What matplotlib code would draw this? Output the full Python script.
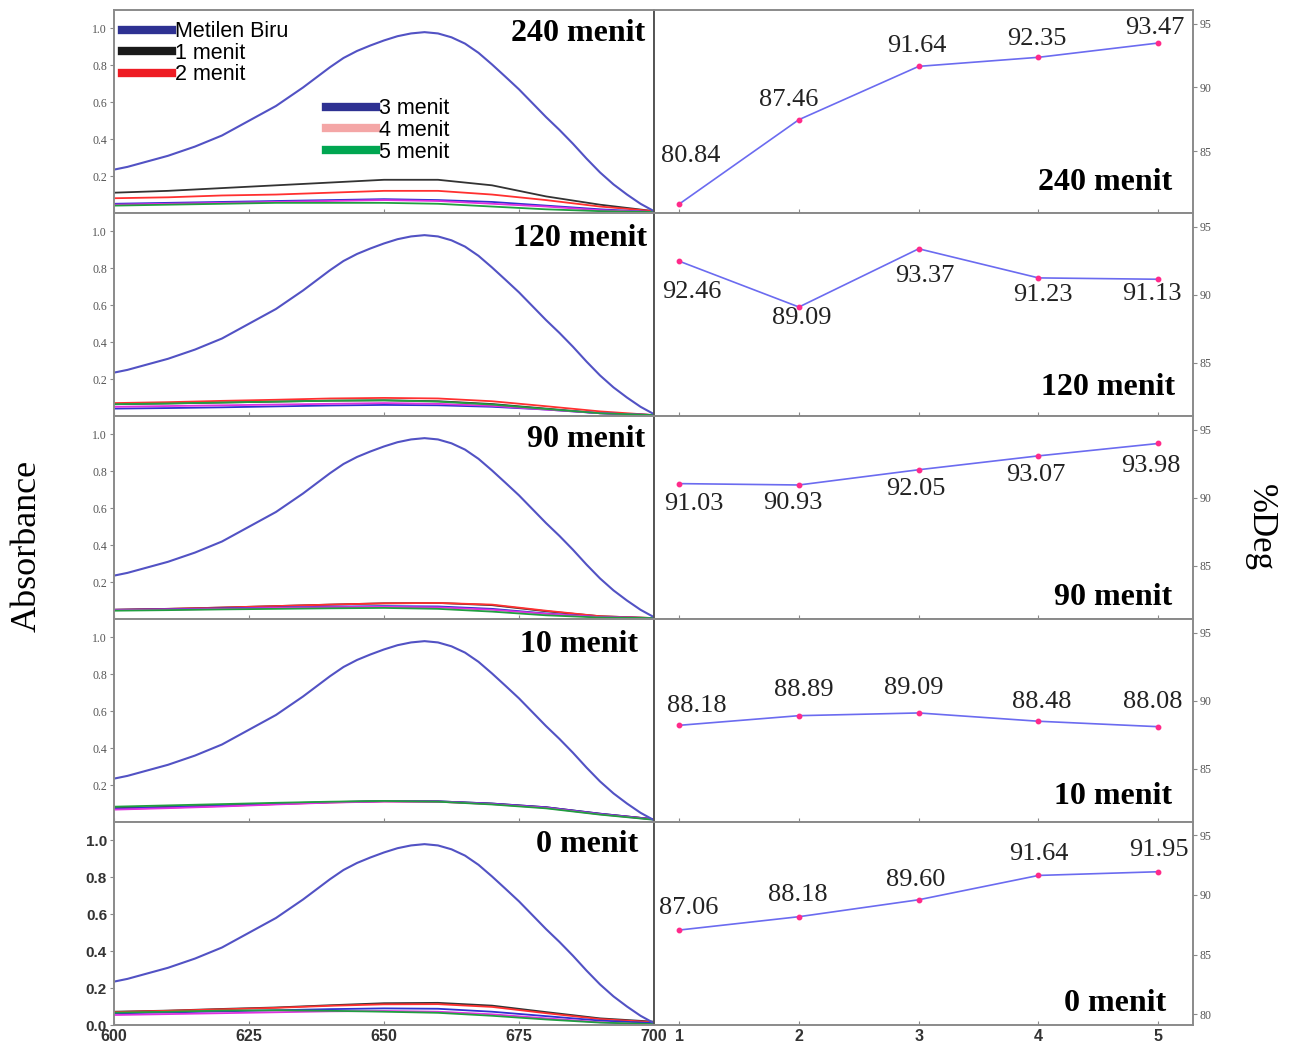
import matplotlib
matplotlib.use("Agg")
import matplotlib.pyplot as plt
from matplotlib.lines import Line2D
import numpy as np

# --- data ---------------------------------------------------------------
panels = ['240 menit', '120 menit', '90 menit', '10 menit', '0 menit']

wl = np.arange(600, 700.1, 2.5)
metilen_biru = [0.235, 0.25, 0.27, 0.29, 0.31, 0.335, 0.36, 0.39, 0.42, 0.46,
                0.50, 0.54, 0.58, 0.63, 0.68, 0.735, 0.79, 0.84, 0.878, 0.908,
                0.935, 0.958, 0.973, 0.98, 0.973, 0.952, 0.918, 0.868, 0.805, 0.738,
                0.67, 0.595, 0.52, 0.45, 0.375, 0.295, 0.22, 0.155, 0.10, 0.05, 0.01]

wl_s = [600, 610, 620, 630, 640, 650, 660, 670, 680, 690, 700]
# 1..5 menit spectra for each panel
abs_240 = [
    [0.11, 0.12, 0.135, 0.15, 0.165, 0.18, 0.18, 0.15, 0.09, 0.045, 0.01],
    [0.08, 0.085, 0.095, 0.10, 0.11, 0.12, 0.12, 0.10, 0.07, 0.035, 0.01],
    [0.05, 0.055, 0.06, 0.065, 0.07, 0.075, 0.07, 0.06, 0.04, 0.02, 0.005],
    [0.045, 0.05, 0.055, 0.06, 0.065, 0.07, 0.065, 0.05, 0.035, 0.015, 0.005],
    [0.04, 0.045, 0.05, 0.055, 0.055, 0.055, 0.05, 0.035, 0.02, 0.01, 0.005],
]
abs_120 = [
    [0.064, 0.068, 0.073, 0.078, 0.083, 0.085, 0.08, 0.065, 0.04, 0.015, 0.005],
    [0.07, 0.075, 0.082, 0.088, 0.095, 0.098, 0.095, 0.08, 0.053, 0.025, 0.005],
    [0.04, 0.043, 0.047, 0.052, 0.057, 0.06, 0.058, 0.05, 0.035, 0.015, 0.005],
    [0.05, 0.054, 0.058, 0.062, 0.066, 0.07, 0.066, 0.055, 0.035, 0.015, 0.005],
    [0.064, 0.068, 0.073, 0.078, 0.083, 0.085, 0.078, 0.062, 0.038, 0.015, 0.005],
]
abs_90 = [
    [0.05, 0.055, 0.062, 0.07, 0.078, 0.085, 0.087, 0.075, 0.042, 0.015, 0.005],
    [0.05, 0.055, 0.062, 0.07, 0.078, 0.085, 0.087, 0.078, 0.045, 0.015, 0.005],
    [0.05, 0.053, 0.058, 0.062, 0.067, 0.07, 0.068, 0.055, 0.03, 0.01, 0.005],
    [0.048, 0.051, 0.055, 0.06, 0.064, 0.066, 0.063, 0.05, 0.028, 0.01, 0.005],
    [0.045, 0.048, 0.052, 0.055, 0.058, 0.06, 0.055, 0.04, 0.02, 0.008, 0.005],
]
abs_10 = [
    [0.075, 0.082, 0.09, 0.1, 0.108, 0.113, 0.112, 0.1, 0.08, 0.045, 0.015],
    [0.07, 0.078, 0.087, 0.097, 0.106, 0.112, 0.11, 0.098, 0.078, 0.043, 0.015],
    [0.072, 0.08, 0.088, 0.098, 0.107, 0.113, 0.112, 0.1, 0.08, 0.045, 0.015],
    [0.067, 0.075, 0.084, 0.095, 0.105, 0.111, 0.11, 0.097, 0.077, 0.042, 0.013],
    [0.083, 0.09, 0.097, 0.104, 0.11, 0.114, 0.11, 0.095, 0.074, 0.04, 0.012],
]
abs_0 = [
    [0.072, 0.078, 0.087, 0.095, 0.107, 0.118, 0.12, 0.105, 0.07, 0.036, 0.018],
    [0.070, 0.077, 0.085, 0.093, 0.104, 0.112, 0.113, 0.098, 0.064, 0.032, 0.015],
    [0.063, 0.068, 0.074, 0.08, 0.086, 0.09, 0.088, 0.072, 0.048, 0.024, 0.01],
    [0.054, 0.059, 0.064, 0.069, 0.074, 0.076, 0.072, 0.058, 0.036, 0.015, 0.002],
    [0.067, 0.072, 0.078, 0.08, 0.077, 0.072, 0.066, 0.05, 0.03, 0.013, 0.005],
]
spectra = [abs_240, abs_120, abs_90, abs_10, abs_0]

menit = [1, 2, 3, 4, 5]
deg_240 = [80.84, 87.46, 91.64, 92.35, 93.47]
deg_120 = [92.46, 89.09, 93.37, 91.23, 91.13]
deg_90 = [91.03, 90.93, 92.05, 93.07, 93.98]
deg_10 = [88.18, 88.89, 89.09, 88.48, 88.08]
deg_0 = [87.06, 88.18, 89.60, 91.64, 91.95]
degs = [deg_240, deg_120, deg_90, deg_10, deg_0]

# --- layout / style ------------------------------------------------------
serif = 'Liberation Serif'
sans = 'Liberation Sans'
line_cols = ['#333333', '#ff3030', '#3030d0', '#e030e0', '#20a040']
leg_cols = ['#2e3192', '#1a1a1a', '#ee1c24', '#2e3192', '#f4a6a6', '#00a651']
leg_labels = ['Metilen Biru', '1 menit', '2 menit', '3 menit', '4 menit', '5 menit']

# label offsets in pixels (dx, dy) relative to each point
offsets = [
    [(12, 48), (-10, 20), (-2, 20), (-2, 18), (-3, 15)],
    [(13, -31), (3, -11), (6, -27), (4, -17), (-6, -15)],
    [(15, -20), (-6, -18), (-3, -19), (-3, -19), (-7, -23)],
    [(18, 19), (5, 26), (-5, 25), (3, 19), (-6, 25)],
    [(10, 22), (-1, 22), (-3, 20), (0, 21), (1, 22)],
]
right_ylims = [(80.14, 96.06), (81.08, 96.0), (81.08, 96.0), (81.07, 96.0), (79.1, 96.12)]
left_title_pos = [(0.983, 0.882), (0.987, 0.872), (0.983, 0.882), (0.970, 0.872), (0.970, 0.887)]
right_title_pos = [(0.962, 0.148), (0.966, 0.138), (0.962, 0.108), (0.962, 0.128), (0.950, 0.108)]

W, H = 1291, 1045
fig = plt.figure(figsize=(W / 100, H / 100), dpi=100)
gs = fig.add_gridspec(5, 2, left=114 / W, right=1193 / W, top=1 - 10 / H,
                      bottom=1 - 1025 / H, hspace=0, wspace=0, width_ratios=[540, 539])

spine_col = '#8a8a8a'
for r in range(5):
    last = r == 4
    axl = fig.add_subplot(gs[r, 0])
    axr = fig.add_subplot(gs[r, 1])

    # absorbance spectra
    for k in range(5):
        axl.plot(wl_s, spectra[r][k], color=line_cols[k], lw=1.3)
    axl.plot(wl, metilen_biru, color='#5252c4', lw=1.5)
    axl.set_xlim(600, 700)
    axl.set_ylim(0, 1.1)
    axl.set_xticks([600, 625, 650, 675, 700])
    if last:
        axl.set_yticks([0, 0.2, 0.4, 0.6, 0.8, 1.0])
        axl.set_yticklabels(['0.0', '0.2', '0.4', '0.6', '0.8', '1.0'],
                            fontfamily=sans, fontweight='bold', fontsize=11, color='#333333')
        axl.set_xticklabels(['600', '625', '650', '675', '700'],
                            fontfamily=sans, fontweight='bold', fontsize=11.5, color='#333333')
    else:
        axl.set_yticks([0.2, 0.4, 0.6, 0.8, 1.0])
        axl.set_yticklabels(['0.2', '0.4', '0.6', '0.8', '1.0'],
                            fontfamily=serif, fontsize=8.5, color='#555555')
        axl.set_xticklabels([])
    axl.tick_params(axis='x', direction='in', length=3, color=spine_col, pad=3)
    axl.tick_params(axis='y', direction='out', length=3, color=spine_col, pad=2)
    tx, ty = left_title_pos[r]
    axl.text(tx, ty, panels[r], transform=axl.transAxes, ha='right', va='center',
             fontfamily=serif, fontweight='bold', fontsize=23)

    # degradation
    axr.plot(menit, degs[r], color='#6b6bf0', lw=1.2, marker='o', ms=3.2,
             mfc='#ff2a8a', mec='#ff2a8a')
    for x, y, (dx, dy) in zip(menit, degs[r], offsets[r]):
        axr.annotate(f'{y:.2f}', (x, y), xytext=(dx, dy), textcoords='offset pixels',
                     ha='center', va='center', fontfamily=serif, fontsize=19, color='#222222')
    axr.set_xlim(0.79, 5.29)
    axr.set_ylim(*right_ylims[r])
    axr.set_xticks(menit)
    axr.yaxis.tick_right()
    if last:
        axr.set_yticks([80, 85, 90, 95])
        axr.set_xticklabels([str(m) for m in menit], fontfamily=sans, fontweight='bold',
                            fontsize=11.5, color='#333333')
    else:
        axr.set_yticks([85, 90, 95])
        axr.set_xticklabels([])
    axr.set_yticklabels([str(t) for t in axr.get_yticks().astype(int)],
                        fontfamily=serif, fontsize=8.5, color='#555555')
    axr.tick_params(axis='x', direction='in', length=3, color=spine_col, pad=3)
    axr.tick_params(axis='y', direction='out', length=3, color=spine_col, pad=2)
    tx, ty = right_title_pos[r]
    axr.text(tx, ty, panels[r], transform=axr.transAxes, ha='right', va='center',
             fontfamily=serif, fontweight='bold', fontsize=23)

    for ax in (axl, axr):
        for s in ax.spines.values():
            s.set_color(spine_col)
            s.set_linewidth(1.4)
    axl.spines['right'].set_color('#555555')
    axr.spines['left'].set_color('#555555')

    if r == 0:
        h1 = [Line2D([], [], color=c, lw=6) for c in leg_cols[:3]]
        h2 = [Line2D([], [], color=c, lw=6) for c in leg_cols[3:]]
        kw = dict(frameon=False, prop={'family': sans, 'size': 15.5},
                  handlelength=2.3, handletextpad=0.15, labelspacing=0.03,
                  borderpad=0, borderaxespad=0)
        lg1 = axl.legend(h1, leg_labels[:3], loc='upper left',
                         bbox_to_anchor=(0.015, 0.945), **kw)
        axl.add_artist(lg1)
        axl.legend(h2, leg_labels[3:], loc='upper left',
                   bbox_to_anchor=(0.393, 0.565), **kw)

fig.text(27 / W, 1 - 546 / H, 'Absorbance', rotation=90, ha='center', va='center',
         fontfamily=serif, fontsize=26)
fig.text(1260 / W, 1 - 527 / H, '%Deg', rotation=270, ha='center', va='center',
         fontfamily=serif, fontsize=25)

fig.savefig('out.png', dpi=100)
